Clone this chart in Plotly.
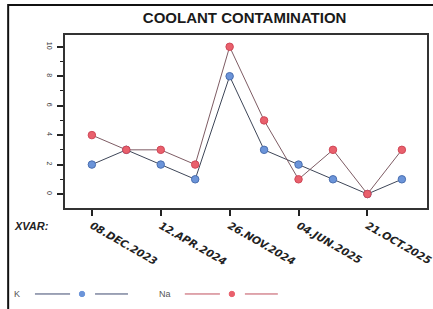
import plotly.graph_objects as go

# ---- data ----
sample_idx = [0, 1, 2, 3, 4, 5, 6, 7, 8, 9]
k_values = [2, 3, 2, 1, 8, 3, 2, 1, 0, 1]
na_values = [4, 3, 3, 2, 10, 5, 1, 3, 0, 3]
tick_positions = [0, 2, 4, 6, 8]
tick_labels = ["08.DEC.2023", "12.APR.2024", "26.NOV.2024", "04.JUN.2025", "21.OCT.2025"]
y_ticks = [0, 2, 4, 6, 8, 10]

K_MARK = "#6b94d9"
NA_MARK = "#e9606c"
K_LINE = "#3e4658"
NA_LINE = "#7e5c64"

fig = go.Figure()
fig.add_trace(go.Scatter(x=sample_idx, y=k_values, mode="lines+markers", name="K",
                         line=dict(color=K_LINE, width=1),
                         marker=dict(color=K_MARK, size=7.5, line=dict(color="#4a6fb0", width=1))))
fig.add_trace(go.Scatter(x=sample_idx, y=na_values, mode="lines+markers", name="Na",
                         line=dict(color=NA_LINE, width=1),
                         marker=dict(color=NA_MARK, size=7.5, line=dict(color="#d04858", width=1))))

fig.update_layout(
    width=433, height=309,
    margin=dict(l=65, r=6, t=35, b=101, autoexpand=False),
    paper_bgcolor="white", plot_bgcolor="white",
    showlegend=False,
    font=dict(family="Liberation Sans, Arial, sans-serif", color="#222"),
    title=dict(text="COOLANT CONTAMINATION", x=0.565, xanchor="center", y=0.942, yanchor="middle",
               font=dict(size=15, color="#1a1a1a", weight="bold")),
)
fig.update_xaxes(range=[-0.78, 9.73], tickmode="array", tickvals=tick_positions, ticktext=tick_labels,
                 tickangle=30, ticks="outside", ticklen=6, tickwidth=1.5, tickcolor="#222", automargin=False,
                 ticklabeloverflow="allow",
                 showline=True, linecolor="#333", linewidth=1.5, mirror=True, showgrid=False, zeroline=False,
                 tickfont=dict(family="DejaVu Sans, sans-serif", size=10.5, color="#222",
                               weight="bold", style="italic"))
fig.update_yaxes(range=[-0.95, 10.8], tickmode="array", tickvals=y_ticks, tickangle=90, automargin=False,
                 ticks="outside", ticklen=6, tickwidth=1.5, tickcolor="#222", ticklabelstandoff=2,
                 minor=dict(dtick=1, tick0=0, ticks="outside", ticklen=3, tickcolor="#222", tickwidth=1),
                 showline=True, linecolor="#333", linewidth=1.5, mirror=True, showgrid=False, zeroline=False,
                 tickfont=dict(size=7, color="#333"))

# outer frame (top and left border)
fig.add_shape(type="rect", xref="paper", yref="paper", x0=-0.157, x1=1.2, y0=-0.8, y1=1.173,
              line=dict(color="#111", width=2), fillcolor="rgba(0,0,0,0)", layer="below")

# XVAR label
fig.add_annotation(text="XVAR:", xref="paper", yref="paper", x=-0.147, y=-0.105,
                   xanchor="left", yanchor="middle", showarrow=False,
                   font=dict(size=11, color="#222", weight="bold", style="italic"))

# custom legend: label then line - marker - line
def legend_item(label, x_text, x_line0, line_color, mark_color):
    y = -0.497
    fig.add_annotation(text=label, xref="paper", yref="paper", x=x_text, y=y, xanchor="left",
                       yanchor="middle", showarrow=False, font=dict(size=9, color="#555"))
    fig.add_shape(type="line", xref="paper", yref="paper", x0=x_line0, x1=x_line0 + 0.097, y0=y, y1=y,
                  line=dict(color=line_color, width=1))
    fig.add_shape(type="line", xref="paper", yref="paper", x0=x_line0 + 0.166, x1=x_line0 + 0.257, y0=y, y1=y,
                  line=dict(color=line_color, width=1))
    cx = x_line0 + 0.13
    fig.add_shape(type="circle", xref="paper", yref="paper", x0=cx - 0.0075, x1=cx + 0.0075,
                  y0=y - 0.0156, y1=y + 0.0156, fillcolor=mark_color, line=dict(color=mark_color, width=1))

legend_item("K", -0.147, -0.083, "#3e4a70", K_MARK)
legend_item("Na", 0.254, 0.331, "#c0505e", NA_MARK)

fig.write_html("out.html", config={"displayModeBar": False},
               post_script="document.body.style.margin='0';document.body.style.overflow='hidden';")
